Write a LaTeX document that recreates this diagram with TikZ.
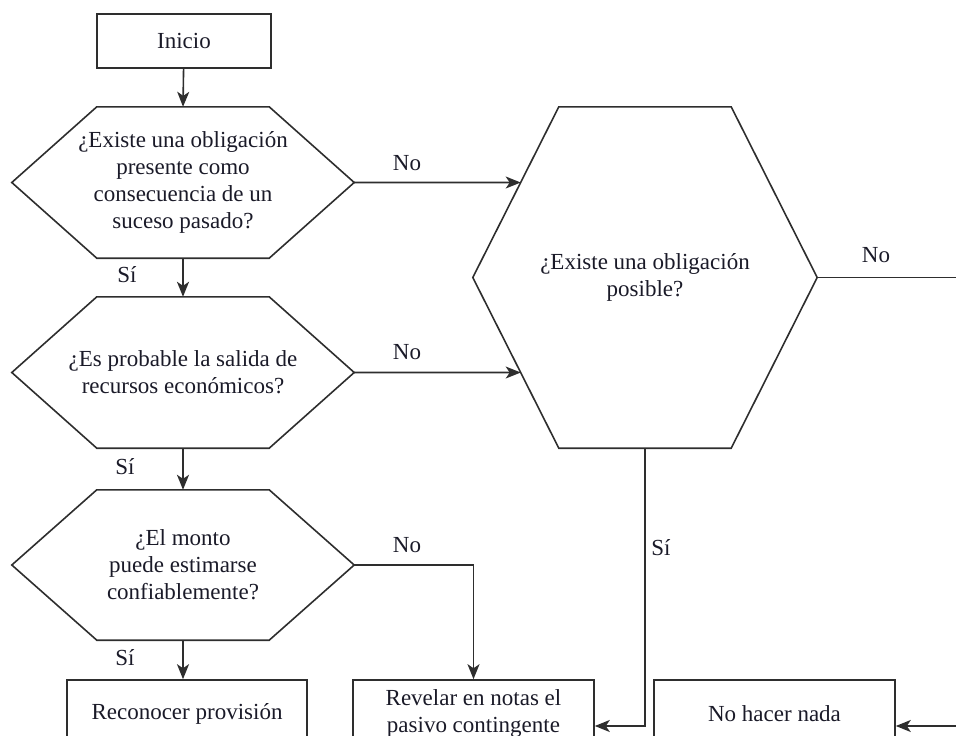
\documentclass[tikz,border=0pt]{standalone}
\usepackage{fontspec}
\setmainfont{Liberation Serif}
\usetikzlibrary{arrows.meta,calc}
\definecolor{linec}{HTML}{2E2E2E}
\definecolor{textc}{HTML}{1A1A28}
\begin{document}
\begin{tikzpicture}[x=1pt,y=-1pt,
  every node/.style={font=\fontsize{23}{27}\selectfont, text=textc},
  ln/.style={draw=linec, line width=1.6pt},
  arr/.style={ln, -{Stealth[length=15pt,width=12pt,inset=4pt]}},
  box/.style={ln, rectangle, inner sep=0pt, align=center},
  hexb/.style={rectangle, draw=none, inner sep=0pt, align=center},
  lbl/.style={inner sep=0pt, anchor=center}]
\useasboundingbox (0,0) rectangle (956,736);
\clip (0,0) rectangle (956,736);

% boxes
\node[box, minimum width=174pt, minimum height=54pt] (ini) at (184,41) {Inicio};
\node[hexb, minimum width=342pt, minimum height=151pt] (h1) at (183,182.5)
  {¿Existe una obligación\\presente como\\consecuencia de un\\suceso pasado?};
\node[hexb, minimum width=342pt, minimum height=151pt] (h2) at (183,372.5)
  {¿Es probable la salida de\\recursos económicos?};
\node[hexb, minimum width=342pt, minimum height=150pt] (h3) at (183,565)
  {¿El monto\\puede estimarse\\confiablemente?};
\node[hexb, minimum width=344pt, minimum height=341pt] (h4) at (645,277.5)
  {¿Existe una obligación\\posible?};
\node[box, minimum width=240pt, minimum height=67pt] (rec) at (187,713.5) {Reconocer provisión};
\node[box, minimum width=241pt, minimum height=67pt] (rev) at (473.5,713.5) {Revelar en notas el\\pasivo contingente};
\node[box, minimum width=241pt, minimum height=67pt] (nada) at (774.5,713.5) {No hacer nada};

% hexagon outlines
\foreach \h/\d in {h1/85,h2/85,h3/85,h4/86}{
  \draw[ln, line join=miter] (\h.west) -- ($(\h.north west)+(\d,0)$) -- ($(\h.north east)+(-\d,0)$)
    -- (\h.east) -- ($(\h.south east)+(-\d,0)$) -- ($(\h.south west)+(\d,0)$) -- cycle;
}

% helper coordinates on the left edges of the big hexagon
\coordinate (h4nw) at ($(h4.north west)+(86,0)$);
\coordinate (h4sw) at ($(h4.south west)+(86,0)$);
\coordinate (h1r) at (h1.east -| h4.east);
\coordinate (h2r) at (h2.east -| h4.east);
\coordinate (h4a) at (intersection of h1.east--h1r and h4.west--h4nw);
\coordinate (h4b) at (intersection of h2.east--h2r and h4.west--h4sw);
\coordinate (outR) at (960,0);

% connectors
\draw[arr] (ini) -- (h1.north);
\draw[arr] (h1.south) -- (h2.north);
\draw[arr] (h2.south) -- (h3.north);
\draw[arr] (h3.south) -- (h3.south |- rec.north);
\draw[arr] (h1.east) -- (h4a);
\draw[arr] (h2.east) -- (h4b);
\draw[arr] (h3.east) -| (rev.north);
\draw[arr] (h4.south) |- ([yshift=-12.5pt]rev.east);
\draw[ln] (h4.east) -- (h4.east -| outR);
\draw[arr] ([yshift=-12.5pt]nada.east -| outR) -- ([yshift=-12.5pt]nada.east);

% labels
\node[lbl] (s1) at (127,275) {Sí};
\node[lbl] (s2) at (125,467) {Sí};
\node[lbl] (s3) at (125,658) {Sí};
\node[lbl] (s4) at (661,548) {Sí};
\node[lbl] (n1) at (407,163) {No};
\node[lbl] (n2) at (407,352) {No};
\node[lbl] (n3) at (407,545) {No};
\node[lbl] (n4) at (876,255) {No};
\end{tikzpicture}
\end{document}
